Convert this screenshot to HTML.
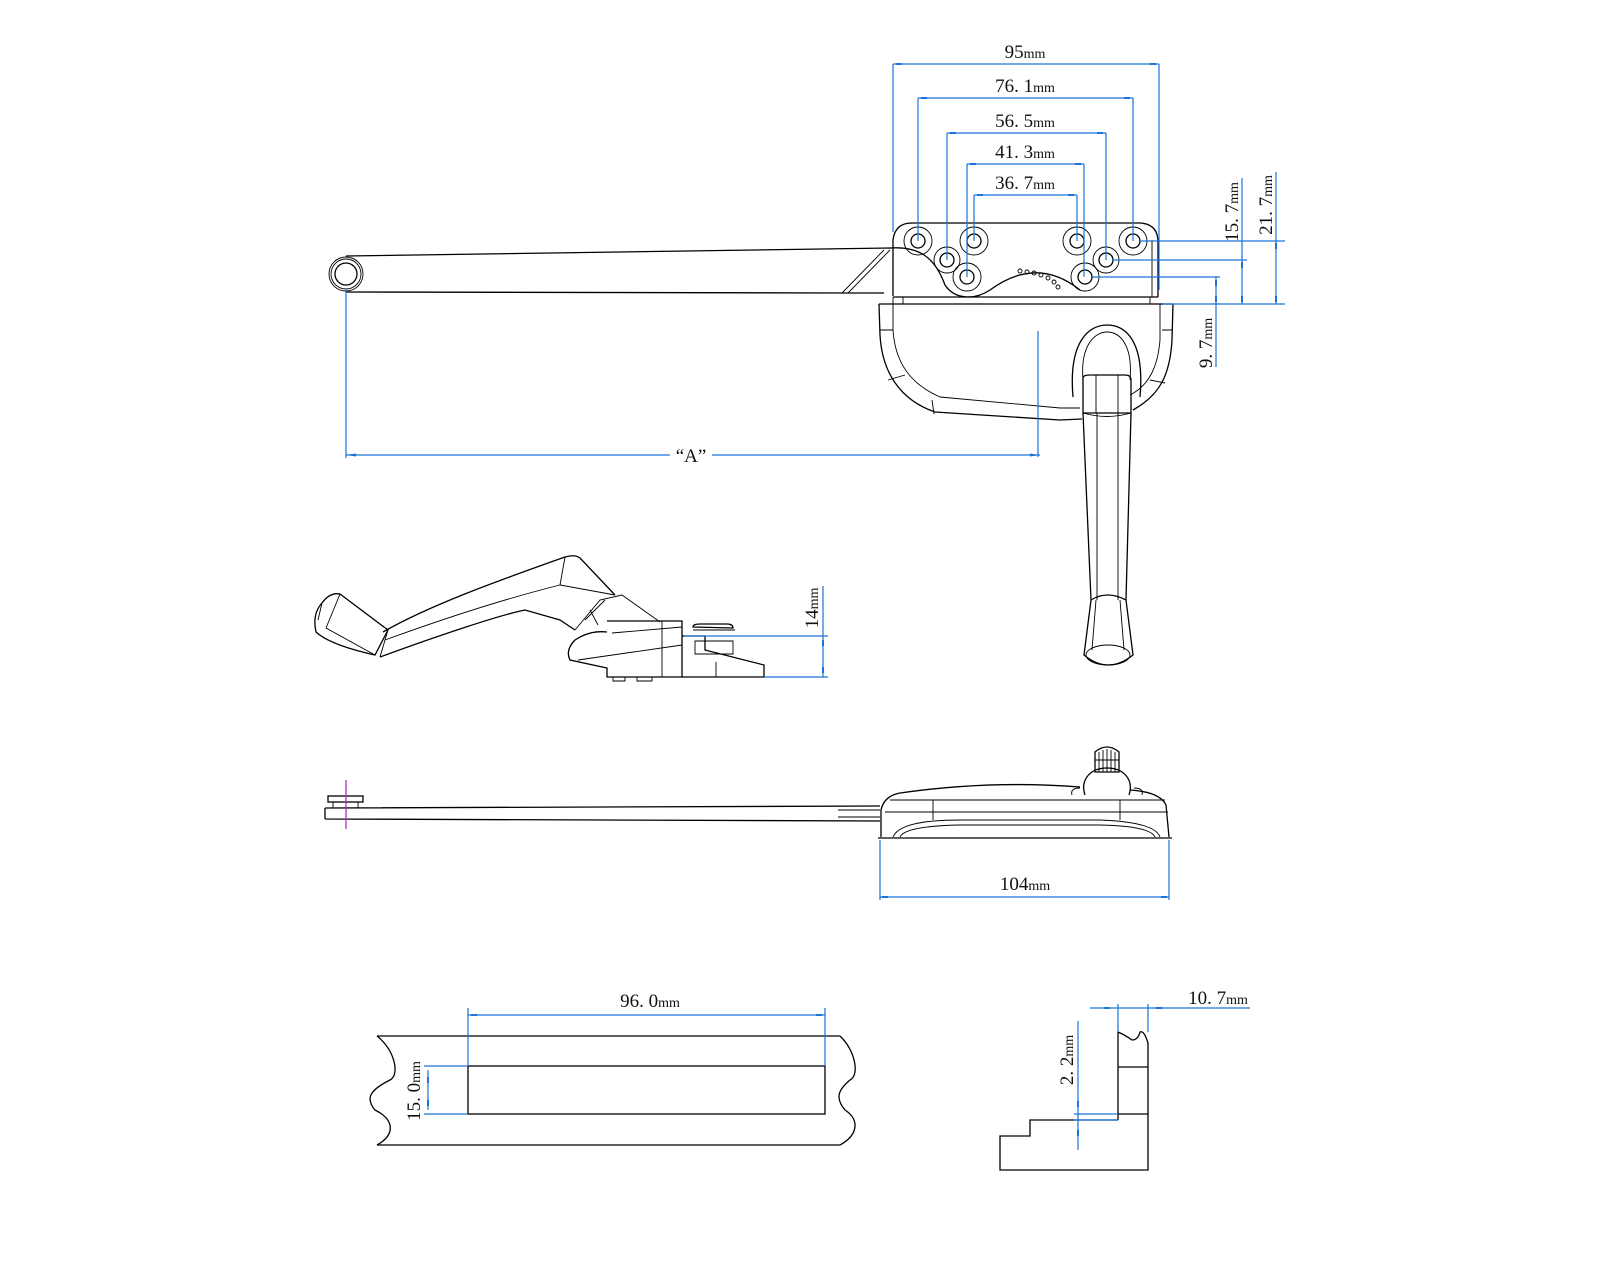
<!DOCTYPE html>
<html><head><meta charset="utf-8"><style>
html,body{margin:0;padding:0;background:#fff;}
svg{display:block;}
text{font-family:"Liberation Serif","Noto Serif CJK SC",serif;fill:#111;}
.k{fill:none;stroke:#000;stroke-width:1.3;}
.kt{fill:none;stroke:#000;stroke-width:0.9;}
.b{fill:none;stroke:#1a73d9;stroke-width:1.2;}
.bt{fill:#1a73d9;}
</style></head><body>
<svg width="1600" height="1280" viewBox="0 0 1600 1280" xmlns="http://www.w3.org/2000/svg">

<!-- ========== TOP VIEW ========== -->
<path class="k" d="M346,256 L890,248"/>
<path class="k" d="M346,292 L844,293 L884,293"/>
<path class="kt" d="M842,293 L884,250 M848,293 L890,250"/>
<circle class="kt" cx="346" cy="274" r="17"/>
<circle class="kt" cx="346" cy="274" r="15"/>
<circle class="k" cx="346" cy="274" r="11"/>
<path class="k" d="M890,248 C920,246 935,258 945,285 C955,300 975,300 990,290 C1020,268 1050,266 1080,290"/>
<g class="kt">
<circle cx="1020" cy="271" r="2"/><circle cx="1027" cy="272" r="2"/><circle cx="1034" cy="273" r="2"/><circle cx="1041" cy="275" r="2"/><circle cx="1048" cy="278" r="2"/><circle cx="1054" cy="282" r="2"/><circle cx="1058" cy="287" r="2"/>
</g>
<path class="k" d="M893,296 L893,240 Q895,223 912,223 L1140,223 Q1158,224 1158,242 L1158,297"/>
<path class="kt" d="M1152,240 L1152,297"/>
<path class="k" d="M893,297 L1158,297" stroke-width="2"/>
<path class="kt" d="M893,297 L893,304 M903,297 L903,304 M1150,297 L1150,304"/>
<g>
<circle class="kt" cx="918" cy="241" r="14"/><circle class="k" cx="918" cy="241" r="7"/>
<circle class="kt" cx="947" cy="260" r="13"/><circle class="k" cx="947" cy="260" r="7"/>
<circle class="kt" cx="974" cy="241" r="14"/><circle class="k" cx="974" cy="241" r="7"/>
<circle class="kt" cx="967" cy="277" r="14"/><circle class="k" cx="967" cy="277" r="7"/>
<circle class="kt" cx="1077" cy="241" r="14"/><circle class="k" cx="1077" cy="241" r="7"/>
<circle class="kt" cx="1106" cy="260" r="13"/><circle class="k" cx="1106" cy="260" r="7"/>
<circle class="kt" cx="1133" cy="241" r="14"/><circle class="k" cx="1133" cy="241" r="7"/>
<circle class="kt" cx="1085" cy="277" r="14"/><circle class="k" cx="1085" cy="277" r="7"/>
</g>
<path class="k" d="M879,304 L1173,304"/>
<path class="k" d="M879,304 L880,335 C882,372 900,400 935,412 L1060,420 L1082,419"/>
<path class="kt" d="M893,304 L893,330 C895,362 910,384 940,397 L1060,408 L1080,408"/>
<path class="k" d="M1173,304 L1172,340 C1170,375 1160,395 1133,410"/>
<path class="kt" d="M1160,304 L1160,340 C1158,365 1150,385 1130,395"/>
<path class="kt" d="M880,330 L893,330 M888,380 L905,375 M932,400 L934,414 M1162,330 L1172,330 M1150,380 L1165,383"/>
<path class="k" d="M1073,397 C1068,340 1090,325 1107,325 C1125,325 1145,340 1140,397"/>
<path class="kt" d="M1083,380 C1080,345 1095,332 1107,332 C1120,332 1133,345 1130,380"/>
<path class="k" d="M1083,378 Q1083,375 1090,375 L1125,375 Q1131,375 1131,380 L1131,413 L1083,413 Z"/>
<path class="kt" d="M1096,375 L1096,413 M1118,375 L1118,413"/>
<path class="kt" d="M1083,413 Q1107,420 1131,413"/>
<path class="k" d="M1083,413 L1091,600 M1131,413 L1126,600"/>
<path class="kt" d="M1097,413 L1097,600 M1118,413 L1118,600"/>
<path class="k" d="M1091,600 Q1107,590 1126,600 L1133,655 Q1108,675 1084,655 Z"/>
<ellipse class="kt" cx="1108" cy="655" rx="22" ry="10"/>
<path class="kt" d="M1096,600 L1092,650 M1120,600 L1124,650"/>
<path class="b" d="M1038,331 L1038,457"/>
<path class="b" d="M346,290 L346,458"/>
<path class="b" d="M346,455 L670,455 M712,455 L1040,455"/>
<path class="bt" d="M346,455 l10,-1.5 v3z M1040,455 l-10,-1.5 v3z"/>
<text x="691" y="462" font-size="19" text-anchor="middle">“A”</text>

<g class="b">
<path d="M893,64 L893,232 M1159,64 L1159,290"/>
<path d="M893,64 L1159,64"/>
<path d="M918,98 L918,241 M1133,98 L1133,241 M918,98 L1133,98"/>
<path d="M947,133 L947,260 M1106,133 L1106,260 M947,133 L1106,133"/>
<path d="M967,164 L967,277 M1084,164 L1084,277 M967,164 L1084,164"/>
<path d="M974,195 L974,241 M1077,195 L1077,241 M974,195 L1077,195"/>
</g>
<g class="bt">
<rect x="896" y="63" width="6" height="2"/><rect x="1150" y="63" width="6" height="2"/>
<rect x="921" y="97" width="6" height="2"/><rect x="1124" y="97" width="6" height="2"/>
<rect x="950" y="132" width="6" height="2"/><rect x="1097" y="132" width="6" height="2"/>
<rect x="970" y="163" width="6" height="2"/><rect x="1075" y="163" width="6" height="2"/>
<rect x="977" y="194" width="6" height="2"/><rect x="1068" y="194" width="6" height="2"/>
</g>
<text x="1025" y="58" font-size="19" text-anchor="middle">95<tspan font-size="14">mm</tspan></text>
<text x="1025" y="92" font-size="19" text-anchor="middle">76. 1<tspan font-size="14">mm</tspan></text>
<text x="1025" y="127" font-size="19" text-anchor="middle">56. 5<tspan font-size="14">mm</tspan></text>
<text x="1025" y="158" font-size="19" text-anchor="middle">41. 3<tspan font-size="14">mm</tspan></text>
<text x="1025" y="189" font-size="19" text-anchor="middle">36. 7<tspan font-size="14">mm</tspan></text>

<g class="b">
<path d="M1140,241 L1285,241"/>
<path d="M1112,260 L1247,260"/>
<path d="M1092,277 L1220,277"/>
<path d="M1163,304 L1285,304"/>
<path d="M1242,178 L1242,304"/>
<path d="M1276,172 L1276,304"/>
<path d="M1216,277 L1216,367"/>
</g>
<g class="bt">
<rect x="1241" y="262" width="2" height="6"/><rect x="1241" y="296" width="2" height="6"/>
<rect x="1275" y="243" width="2" height="6"/><rect x="1275" y="296" width="2" height="6"/>
<rect x="1215" y="280" width="2" height="6"/><rect x="1215" y="296" width="2" height="6"/>
</g>
<text transform="translate(1238,212) rotate(-90)" font-size="19" text-anchor="middle">15. 7<tspan font-size="14">mm</tspan></text>
<text transform="translate(1272,205) rotate(-90)" font-size="19" text-anchor="middle">21. 7<tspan font-size="14">mm</tspan></text>
<text transform="translate(1212,343) rotate(-90)" font-size="19" text-anchor="middle">9. 7<tspan font-size="14">mm</tspan></text>

<!-- ========== SIDE VIEW (crank) ========== -->
<g>
<path class="k" d="M322,603 Q330,592 340,594 L388,630 L375,655 Q330,645 316,632 Q312,614 322,603 Z"/>
<path class="kt" d="M340,594 L326,628 L375,655 M322,603 L318,620"/>
<path class="k" d="M383,632 C430,605 500,580 565,557 Q575,554 580,558 L615,595"/>
<path class="k" d="M380,657 C440,635 500,615 525,610 L560,620 L575,630"/>
<path class="kt" d="M388,630 L380,657 M565,557 L560,585 L615,595"/>
<path class="kt" d="M560,585 C500,600 440,620 385,640"/>
<path class="kt" d="M575,630 L600,600 L622,595 L660,622"/>
<path class="kt" d="M590,610 L598,625 M585,620 L605,600"/>
<path class="k" d="M607,621 L682,621 L682,677 L607,677 L607,668 L570,660 Q565,650 575,640 Q590,630 607,632"/>
<path class="kt" d="M612,633 L682,627 M578,660 L682,645 M662,621 L662,677"/>
<path class="k" d="M682,636 L705,636 L705,650 L764,665 L764,677 L682,677"/>
<path class="k" d="M693,627 Q693,624 700,624 L727,624 Q733,624 733,628 Z"/>
<path class="kt" d="M695,641 L733,641 L733,654 L695,654 Z M693,630 L735,630 M716,662 L716,677"/>
<path class="kt" d="M613,677 L613,681 L625,681 L625,677 M637,677 L637,681 L652,681 L652,677"/>
</g>
<g class="b">
<path d="M684,636 L828,636"/>
<path d="M764,677 L828,677"/>
<path d="M823,586 L823,677"/>
</g>
<g class="bt"><rect x="822" y="640" width="2" height="6"/><rect x="822" y="667" width="2" height="6"/></g>
<text transform="translate(818,608) rotate(-90)" font-size="19" text-anchor="middle">14<tspan font-size="14">mm</tspan></text>

<!-- ========== SIDE VIEW (flat) ========== -->
<path class="k" d="M325,808 L880,806 M325,819 L880,821 M325,808 L325,819"/>
<path class="kt" d="M838,810 L880,810 M838,817 L880,817"/>
<rect class="k" x="328" y="796" width="35" height="6" stroke-width="2"/>
<path class="kt" d="M333,802 L333,808 M358,802 L358,808"/>
<path d="M346,780 L346,829" stroke="#b030c0" stroke-width="1.3"/>
<path class="k" d="M881,837 L881,810 Q884,796 900,793 Q990,780 1080,787 M1130,790 Q1160,792 1166,805 L1169,837"/>
<path class="k" d="M878,838 L1172,838" stroke-width="2"/>
<path class="kt" d="M893,837 Q900,820 960,820 L1100,820 Q1155,822 1160,837"/>
<path class="kt" d="M900,837 Q905,826 960,825 L1100,825 Q1150,826 1155,837"/>
<path class="kt" d="M890,800 L1165,800 M933,800 L933,820 M1120,800 L1120,820 M885,812 L1168,812"/>
<path class="k" d="M1085,795 C1080,780 1090,768 1107,768 C1124,768 1134,780 1129,795"/>
<path class="kt" d="M1072,795 Q1070,788 1080,788 M1142,795 Q1144,788 1134,788"/>
<path class="k" d="M1095,772 L1095,752 Q1107,742 1119,752 L1119,772 Z"/>
<path class="kt" d="M1099,752 L1099,772 M1103,750 L1103,772 M1107,749 L1107,772 M1111,750 L1111,772 M1115,752 L1115,772 M1095,760 L1119,760"/>
<g class="b"><path d="M880,840 L880,900 M1169,840 L1169,900 M880,897 L1169,897"/></g>
<g class="bt"><rect x="882" y="896" width="6" height="2"/><rect x="1161" y="896" width="6" height="2"/></g>
<text x="1025" y="890" font-size="19" text-anchor="middle">104<tspan font-size="14">mm</tspan></text>

<!-- ========== BOTTOM LEFT ========== -->
<path class="k" d="M377,1036 L840,1036 M377,1145 L840,1145"/>
<path class="k" d="M377,1036 C395,1050 400,1075 390,1080 C370,1090 365,1098 375,1110 C395,1120 395,1135 377,1145"/>
<path class="k" d="M840,1036 C855,1050 860,1075 850,1080 C838,1090 835,1098 845,1110 C860,1120 858,1135 840,1145"/>
<rect class="k" x="468" y="1066" width="357" height="48"/>
<g class="b">
<path d="M468,1008 L468,1066 M825,1008 L825,1066 M468,1015 L825,1015"/>
<path d="M424,1066 L468,1066 M424,1114 L468,1114 M428,1070 L428,1110"/>
</g>
<g class="bt"><rect x="471" y="1014" width="6" height="2"/><rect x="816" y="1014" width="6" height="2"/>
<rect x="427" y="1077" width="2" height="6"/><rect x="427" y="1100" width="2" height="6"/></g>
<text x="650" y="1007" font-size="19" text-anchor="middle">96. 0<tspan font-size="14">mm</tspan></text>
<text transform="translate(420,1091) rotate(-90)" font-size="19" text-anchor="middle">15. 0<tspan font-size="14">mm</tspan></text>

<!-- ========== BOTTOM RIGHT ========== -->
<path class="k" d="M1118,1032 L1118,1120 M1118,1067 L1148,1067 M1118,1114 L1148,1114"/>
<path class="k" d="M1118,1120 L1030,1120 L1030,1136 L1000,1136 L1000,1170 L1148,1170 L1148,1043"/>
<path class="k" d="M1118,1032 Q1125,1035 1132,1040 Q1138,1040 1140,1032 Q1144,1030 1148,1043"/>
<g class="b">
<path d="M1090,1008 L1250,1008 M1118,1004 L1118,1032 M1148,1004 L1148,1032"/>
<path d="M1074,1114 L1118,1114 M1074,1120 L1118,1120 M1078,1021 L1078,1150"/>
</g>
<g class="bt"><rect x="1104" y="1007" width="6" height="2"/><rect x="1156" y="1007" width="6" height="2"/>
<rect x="1077" y="1101" width="2" height="6"/><rect x="1077" y="1130" width="2" height="6"/></g>
<text x="1218" y="1004" font-size="19" text-anchor="middle">10. 7<tspan font-size="14">mm</tspan></text>
<text transform="translate(1073,1060) rotate(-90)" font-size="19" text-anchor="middle">2. 2<tspan font-size="14">mm</tspan></text>
</svg>
</body></html>
